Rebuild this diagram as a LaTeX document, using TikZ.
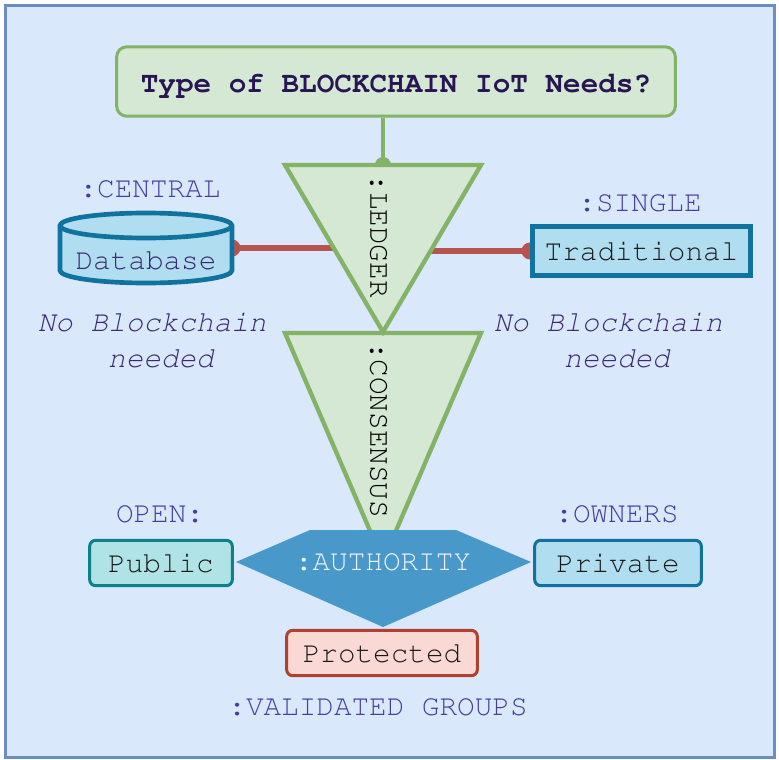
\documentclass[tikz,border=0pt]{standalone}
\usepackage[T1]{fontenc}
\newcommand\courfont{\fontfamily{pcr}\selectfont}
\usetikzlibrary{shapes}

\pgfdeclarelayer{frame}
\pgfdeclarelayer{links}
\pgfdeclarelayer{bodies}
\pgfsetlayers{frame,links,bodies,main}

\tikzset{
  txt/.style={inner sep=0pt, outer sep=0pt, font=\courfont\fontsize{22}{27}\selectfont},
  tag/.style={txt, text={rgb, 255:red, 70; green, 60; blue, 160 }},
  note/.style={txt, align=center, font=\courfont\itshape\fontsize{22}{27}\selectfont, text={rgb, 255:red, 58; green, 42; blue, 112 }},
  titlebox/.style={txt, font=\courfont\bfseries\fontsize{22}{27}\selectfont, text height=17pt, text depth=0pt, rounded corners=7.5pt, line width=2.25pt, minimum width=419pt, minimum height=52pt, outer sep=1.1pt, color={rgb, 255:red, 130; green, 179; blue, 102 }, fill={rgb, 255:red, 213; green, 232; blue, 212 }, draw, text={rgb, 255:red, 40; green, 22; blue, 82 }},
  rbox/.style={txt, draw, rounded corners=4.5pt, line width=2.25pt, minimum height=34pt, text={rgb, 255:red, 26; green, 26; blue, 26 }},
  sbox/.style={txt, draw={rgb, 255:red, 16; green, 115; blue, 158 }, fill={rgb, 255:red, 177; green, 221; blue, 240 }, line width=3.75pt, outer sep=1.9pt, minimum width=163.5pt, minimum height=36.75pt, text={rgb, 255:red, 26; green, 26; blue, 26 }},
  tri/.style={draw={rgb, 255:red, 130; green, 179; blue, 102 }, fill={rgb, 255:red, 213; green, 232; blue, 212 }, line width=3.25pt},
  can/.style={draw={rgb, 255:red, 16; green, 115; blue, 158 }, fill={rgb, 255:red, 177; green, 221; blue, 240 }, line width=3.5pt},
  redlink/.style={draw={rgb, 255:red, 184; green, 84; blue, 80 }, line width=4pt},
  greenlink/.style={draw={rgb, 255:red, 130; green, 179; blue, 102 }, line width=2.6pt}
}

\begin{document}
\begin{tikzpicture}[x=0.75pt,y=0.75pt,yscale=-1,xscale=1]
\useasboundingbox (0,0) rectangle (779,760);

%Frame
\begin{pgfonlayer}{frame}
\draw [color={rgb, 255:red, 108; green, 142; blue, 191 }, fill={rgb, 255:red, 218; green, 232; blue, 252 }, line width=2.25pt] (5,5) rectangle (774,757);
\end{pgfonlayer}

%Question
\node [titlebox] (question) at (396,81.5) {Type of BLOCKCHAIN IoT Needs?};

%Shape: Triangles
\coordinate (ledgerN) at (383,165);
\coordinate (ledgerW) at (335,250);
\coordinate (ledgerE) at (431,250);
\draw [tri] (285,333) -- (481,333) -- (383,561) -- cycle;
\draw [tri] (285,165) -- (481,165) -- (383,332) -- cycle;
\node [txt, rotate=-90] (ledger) at (379,236) {:LEDGER};
\node [txt, rotate=-90] (consensus) at (379,430) {:CONSENSUS};

%Shape: Authority
\fill [color={rgb, 255:red, 72; green, 152; blue, 202 }] (310,530) -- (456,530) -- (531,562) -- (383,627) -- (236,562) -- cycle;
\node [txt, text={rgb, 255:red, 240; green, 245; blue, 255 }] (authority) at (383,562) {:AUTHORITY};

%Shape: Can
\node [txt, minimum width=129pt, minimum height=33.75pt, text height=32.6pt, text depth=0pt, text={rgb, 255:red, 58; green, 42; blue, 112 }] (database) at (146,248) {Database};
\begin{pgfonlayer}{bodies}
\draw [can] (database.north west) -- (database.south west) arc [start angle=180, end angle=0, x radius=86, y radius=12.5] -- (database.north east) arc [start angle=0, end angle=-180, x radius=86, y radius=12.5] -- cycle;
\draw [can] (database.north west) arc [start angle=180, end angle=0, x radius=86, y radius=12.5];
\end{pgfonlayer}

%Boxes
\node [sbox] (traditional) at (641.5,251) {Traditional};
\node [rbox, draw={rgb, 255:red, 14; green, 128; blue, 136 }, fill={rgb, 255:red, 176; green, 227; blue, 230 }, minimum width=107pt] (public) at (161,563) {Public};
\node [rbox, draw={rgb, 255:red, 16; green, 115; blue, 158 }, fill={rgb, 255:red, 177; green, 221; blue, 240 }, minimum width=125pt] (private) at (618,563) {Private};
\node [rbox, draw={rgb, 255:red, 174; green, 65; blue, 50 }, fill={rgb, 255:red, 250; green, 217; blue, 213 }, minimum width=143pt] (protected) at (382,653) {Protected};

%Labels
\node [tag] (central) at (150,189) {:CENTRAL};
\node [tag] (single) at (640,203) {:SINGLE};
\node [tag] (open) at (160,514) {OPEN:};
\node [tag] (owners) at (617,514) {:OWNERS};
\node [tag] (validated) at (378,707) {:VALIDATED GROUPS};
\node [note] (nbleft) at (161,340) {No Blockchain\hphantom{x}\\needed};
\node [note] (nbright) at (617,340) {No Blockchain\hphantom{x}\\needed};

%Straight Lines
\begin{pgfonlayer}{links}
\draw [greenlink] (question.south -| ledgerN) -- (ledgerN);
\fill [color={rgb, 255:red, 130; green, 179; blue, 102 }] (ledgerN) circle [radius=8];
\draw [redlink] (database.east) -- (database.east -| ledgerW);
\fill [color={rgb, 255:red, 184; green, 84; blue, 80 }] (database.east) circle [radius=8.5];
\draw [redlink] (ledgerE |- traditional.west) -- (traditional.west);
\fill [color={rgb, 255:red, 184; green, 84; blue, 80 }] (traditional.west) circle [radius=8.5];
\end{pgfonlayer}

\end{tikzpicture}
\end{document}
